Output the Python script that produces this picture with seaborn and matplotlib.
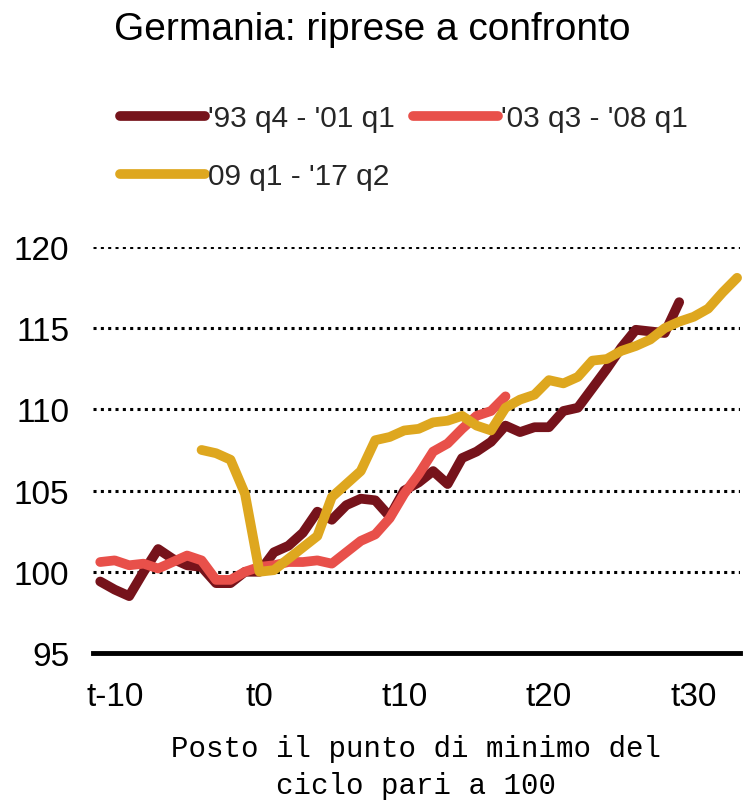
import numpy as np
import pandas as pd
import matplotlib
matplotlib.use("Agg")
import matplotlib.pyplot as plt
import seaborn as sns

# quarters relative to the cycle trough (t0 = 100)
x_9301 = list(range(-11, 30))
v_9301 = [99.4, 98.9, 98.5, 100.0, 101.4, 100.8, 100.4, 100.3, 99.3, 99.3,
          100.0, 100.0, 101.2, 101.6, 102.4, 103.7, 103.2, 104.1, 104.5, 104.4,
          103.4, 105.0, 105.5, 106.2, 105.4, 107.0, 107.4, 108.0, 109.0, 108.6,
          108.9, 108.9, 109.9, 110.1, 111.3, 112.5, 113.8, 114.9, 114.8, 114.7,
          116.6]

x_0308 = list(range(-11, 18))
v_0308 = [100.6, 100.7, 100.4, 100.5, 100.2, 100.6, 101.0, 100.7, 99.5, 99.5,
          100.0, 100.3, 100.4, 100.6, 100.6, 100.7, 100.5, 101.2, 101.9, 102.3,
          103.3, 104.8, 106.0, 107.4, 107.9, 108.8, 109.6, 109.9, 110.8]

x_0917 = list(range(-4, 34))
v_0917 = [107.5, 107.3, 106.9, 104.8, 100.0, 100.1, 100.8, 101.5, 102.2, 104.6,
          105.4, 106.2, 108.1, 108.3, 108.7, 108.8, 109.2, 109.3, 109.6, 109.0,
          108.7, 110.1, 110.6, 110.9, 111.8, 111.6, 112.0, 113.0, 113.1, 113.6,
          113.9, 114.3, 115.0, 115.4, 115.7, 116.2, 117.2, 118.1]

labels = ["'93 q4 - '01 q1", "'03 q3 - '08 q1", "09 q1 - '17 q2"]
colors = ["#76131b", "#e8504a", "#dea71f"]
xticks = [-10, 0, 10, 20, 30]
xticklabels = ["t-10", "t0", "t10", "t20", "t30"]
yticks = [95, 100, 105, 110, 115, 120]

df = pd.concat([
    pd.DataFrame({"t": x_9301, "val": v_9301, "serie": labels[0]}),
    pd.DataFrame({"t": x_0308, "val": v_0308, "serie": labels[1]}),
    pd.DataFrame({"t": x_0917, "val": v_0917, "serie": labels[2]}),
])

sns.set_style("white")
plt.rcParams["font.family"] = ["Liberation Sans", "DejaVu Sans"]

fig = plt.figure(figsize=(7.44, 8.04), dpi=100)
ax = fig.add_axes([0.125, 0.1866, 0.8696, 0.505])

for y in yticks[1:]:
    ax.axhline(y, color="black", lw=2.2, ls=(0, (1, 1.4)), zorder=0)

sns.lineplot(data=df, x="t", y="val", hue="serie", hue_order=labels,
             palette=colors, lw=7, ax=ax, solid_capstyle="round",
             solid_joinstyle="round", legend=False, clip_on=False)

ax.set_xlim(-11.5, 33.2)
ax.set_ylim(95, 120)
ax.set_xticks(xticks)
ax.set_xticklabels(xticklabels)
ax.set_yticks(yticks)
ax.tick_params(axis="both", length=0, labelsize=24, colors="black")
ax.tick_params(axis="x", pad=20)
ax.tick_params(axis="y", pad=17)
for s in ["top", "right", "left"]:
    ax.spines[s].set_visible(False)
ax.spines["bottom"].set_linewidth(3.5)
ax.spines["bottom"].set_color("black")

ax.set_ylabel("")
ax.set_xlabel("Posto il punto di minimo del\nciclo pari a 100",
              family=["Liberation Mono", "DejaVu Sans Mono"], fontsize=21,
              labelpad=16, linespacing=1.4, color="black")

# legend filled column by column: put the 2017 series under the first one
handles = [plt.Line2D([], [], color=c, lw=7, solid_capstyle="round") for c in colors]
order = [0, 2, 1]
fig.legend([handles[i] for i in order], [labels[i] for i in order],
           loc="upper left", bbox_to_anchor=(0.145, 0.884),
           ncol=2, frameon=False, fontsize=21.5, handlelength=2.85,
           handletextpad=0.1, columnspacing=0.6, labelspacing=1.0,
           borderaxespad=0)

fig.text(0.5, 1 - 30 / 804, "Germania: riprese a confronto", ha="center",
         va="center", fontsize=28, color="black")

fig.savefig("out.png", dpi=100)
